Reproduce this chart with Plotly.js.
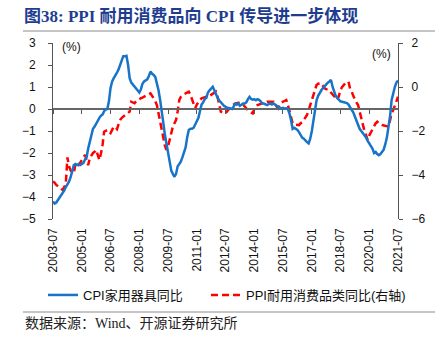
<!DOCTYPE html>
<html>
<head>
<meta charset="utf-8">
<script src="https://cdn.plot.ly/plotly-3.0.1.min.js"></script>
<style>
html,body{margin:0;padding:0;background:#fff;}
#chart{width:445px;height:338px;}
</style>
</head>
<body>
<div id="chart"></div>
<script>
// Monthly series, 2003-07 .. 2021-07
var startYear = 2003, startMonth = 7;

var cpiAppliances = [
  -4.2, -4.3, -4.25, -4.15, -4.05, -3.95, -3.8, -3.7, -3.55, -3.45, -3.3, -3.1,
  -2.75, -2.55, -2.5, -2.55, -2.5, -2.55, -2.5, -2.45, -2.3, -2.2, -1.8, -1.45,
  -1.15, -0.9, -0.8, -0.65, -0.5, -0.4, -0.3, -0.25, -0.1, -0.02, 0.0, 0.35,
  0.95, 1.25, 1.4, 1.5, 1.65, 1.8, 2.0, 2.25, 2.4, 2.4, 2.42, 2.0,
  1.4, 1.2, 1.1, 1.05, 0.95, 0.85, 0.75, 0.9, 1.15, 1.25, 1.3, 1.35,
  1.5, 1.7, 1.6, 1.55, 1.45, 1.2, 0.85, 0.4, 0.0, -0.6, -1.15, -1.6,
  -2.0, -2.45, -2.8, -2.95, -3.08, -2.95, -2.6, -2.5, -2.4, -2.2, -2.0, -1.75,
  -1.3, -0.95, -0.9, -0.9, -0.85, -0.7, -0.55, -0.4, -0.1, 0.2, 0.3, 0.45,
  0.5, 0.75, 0.85, 0.95, 1.01, 0.85, 0.65, 0.5, 0.4, 0.3, 0.2, 0.15,
  0.1, 0.05, 0.05, 0.03, 0.0, 0.1, 0.25, 0.2, 0.25, 0.15, 0.2, 0.25,
  0.25, 0.3, 0.45, 0.55, 0.45, 0.42, 0.45, 0.4, 0.45, 0.42, 0.35, 0.25,
  0.25, 0.2, 0.18, 0.22, 0.25, 0.2, 0.25, 0.2, 0.15, 0.1, 0.05, 0.03,
  0.05, 0.02, 0.03, 0.0, -0.2, -0.5, -0.9, -0.85, -0.9, -0.95, -1.05, -1.2,
  -1.3, -1.35, -1.45, -1.5, -1.56, -1.35, -1.0, -0.45, 0.0, 0.4, 0.6, 0.75,
  0.85, 0.95, 1.05, 1.1, 1.2, 1.25, 1.32, 1.0, 0.8, 0.6, 0.5, 0.4,
  0.35, 0.33, 0.3, 0.3, 0.27, 0.2, 0.1, -0.05, -0.15, -0.35, -0.5, -0.75,
  -0.9, -1.0, -1.1, -1.2, -1.3, -1.45, -1.55, -1.65, -1.8, -2.0, -1.95, -2.05,
  -2.1, -2.05, -1.95, -1.85, -1.6, -1.3, -0.8, -0.3, 0.4, 0.8, 1.0, 1.2, 1.3
];

var ppiDurables = [
  -4.3, -4.35, -4.45, -4.5, -4.55, -4.6, -4.68, -4.55, -4.38, -3.2, -3.6, -3.8,
  -3.85, -3.92, -3.5, -3.6, -3.55, -3.45, -3.32, -3.2, -3.09, -3.3, -3.55, -3.24,
  -3.1, -3.0, -2.95, -2.86, -3.1, -3.32, -3.01, -2.6, -2.03, -2.0, -1.95, -2.05,
  -2.1, -1.95, -1.8, -1.85, -1.92, -1.7, -1.5, -1.4, -1.35, -1.3, -1.27, -1.2,
  -1.12, -0.67, -0.7, -0.74, -0.65, -0.59, -0.55, -0.51, -0.48, -0.44, -0.4, -0.35,
  -0.3, -0.29, -0.4, -0.51, -0.65, -0.82, -1.2, -1.65, -2.0, -2.41, -2.65, -2.86,
  -2.7, -2.41, -2.1, -1.8, -1.65, -1.5, -1.1, -0.59, -0.45, -0.36, -0.32, -0.29,
  -0.25, -0.21, -0.35, -0.59, -0.8, -0.97, -0.8, -0.67, -0.6, -0.51, -0.48, -0.46,
  -0.44, -0.42, -0.4, -0.36, -0.3, -0.25, -0.21, -0.45, -0.85, -1.12, -1.15, -1.18,
  -1.2, -1.1, -1.0, -0.92, -0.85, -0.8, -0.75, -0.74, -0.72, -0.74, -0.74, -0.8,
  -0.9, -0.97, -1.05, -1.12, -1.18, -1.2, -1.0, -0.85, -0.82, -0.78, -0.75, -0.74,
  -0.74, -0.7, -0.67, -0.67, -0.67, -0.67, -0.67, -0.8, -0.9, -0.97, -0.8, -0.7,
  -0.67, -0.63, -0.59, -0.8, -1.12, -1.4, -1.65, -1.7, -1.72, -1.73, -1.73, -1.65,
  -1.6, -1.5, -1.4, -1.27, -1.05, -0.82, -0.6, -0.36, -0.15, 0.09, 0.15, 0.17,
  0.17, 0.05, -0.06, -0.1, -0.12, -0.14, -0.25, -0.35, -0.44, -0.5, -0.59, -0.4,
  -0.14, 0.0, 0.1, 0.17, 0.22, 0.24, -0.1, -0.21, -0.4, -0.59, -0.7, -0.82,
  -1.1, -1.45, -1.8, -2.0, -2.2, -2.41, -2.2, -2.05, -1.95, -1.8, -1.65, -1.58,
  -1.65, -1.7, -1.73, -1.75, -1.78, -1.8, -1.8, -1.5, -1.2, -1.05, -0.89, -0.65, -0.44
];

var tickLabels = ["2003-07","2005-01","2006-07","2008-01","2009-07","2011-01","2012-07",
                  "2014-01","2015-07","2017-01","2018-07","2020-01","2021-07"];

var seriesNames = ["CPI家用器具同比", "PPI耐用消费品类同比(右轴)"];

// build month axis
var months = [];
for (var i = 0; i < cpiAppliances.length; i++) {
  var mm = startMonth - 1 + i;
  var y = startYear + Math.floor(mm / 12);
  var m = (mm % 12) + 1;
  months.push(y + "-" + (m < 10 ? "0" + m : m) + "-01");
}
var tickVals = tickLabels.map(function (t) { return t + "-01"; });
var xRange = [months[0], months[months.length - 1]];

var latin = "Liberation Sans, Arial, Noto Sans CJK SC, sans-serif";
var serif = "Liberation Serif, Noto Sans CJK SC, serif";

function px2x(px) { return (px - 53) / 345; }
function px2y(py) { return (219 - py) / 176; }

var traces = [
  {
    x: months, y: cpiAppliances, name: seriesNames[0],
    type: "scatter", mode: "lines", xaxis: "x2", yaxis: "y", legend: "legend",
    line: {color: "#1874C8", width: 2.5}
  },
  {
    x: months, y: ppiDurables, name: seriesNames[1],
    type: "scatter", mode: "lines", xaxis: "x", yaxis: "y2", legend: "legend2",
    line: {color: "#FF0000", width: 2.5, dash: "7px,4px"}
  }
];

var legendFont = {family: latin, size: 13, color: "#111"};

var layout = {
  width: 445, height: 338,
  margin: {l: 53, r: 47, t: 43, b: 119, pad: 0},
  paper_bgcolor: "#fff", plot_bgcolor: "rgba(0,0,0,0)",
  showlegend: true,
  font: {family: latin, size: 12, color: "#111"},
  title: {
    text: "<b>图38: PPI 耐用消费品向 CPI 传导进一步体现</b>",
    font: {family: serif, size: 17, color: "#1F3D8F"},
    xref: "container", yref: "container", x: 24 / 445, xanchor: "left",
    y: 1 - 16 / 338, yanchor: "middle"
  },
  xaxis: {
    type: "date", range: xRange, tickmode: "array",
    tickvals: tickVals, ticktext: tickLabels, tickangle: -90,
    ticks: "", showline: false, showgrid: false, zeroline: false,
    ticklabelstandoff: 6,
    tickfont: {family: latin, size: 12, color: "#111"}
  },
  xaxis2: {
    type: "date", range: xRange, overlaying: "x", anchor: "free", position: 0.625,
    tickmode: "array", tickvals: tickVals, showticklabels: false,
    ticks: "outside", ticklen: 4, tickwidth: 1, tickcolor: "#555",
    showline: false, showgrid: false, zeroline: false
  },
  yaxis: {
    range: [-5, 3], dtick: 1, tick0: 0,
    showline: true, linecolor: "#555", linewidth: 1,
    ticks: "outside", ticklen: 4, tickcolor: "#555",
    showgrid: false, zeroline: true, zerolinecolor: "#666", zerolinewidth: 1.5,
    ticklabelstandoff: 10,
    tickfont: {family: latin, size: 12, color: "#111"}
  },
  yaxis2: {
    range: [-6, 2], dtick: 2, tick0: 0, overlaying: "y", side: "right",
    showline: true, linecolor: "#555", linewidth: 1,
    ticks: "outside", ticklen: 4, tickcolor: "#555",
    showgrid: false, zeroline: false,
    ticklabelstandoff: 6,
    tickfont: {family: latin, size: 12, color: "#111"}
  },
  legend: {
    orientation: "h", xref: "paper", yref: "paper",
    x: px2x(43), xanchor: "left", y: px2y(295), yanchor: "middle",
    font: legendFont, bgcolor: "rgba(0,0,0,0)"
  },
  legend2: {
    orientation: "h", xref: "paper", yref: "paper",
    x: px2x(206), xanchor: "left", y: px2y(295), yanchor: "middle",
    font: legendFont, bgcolor: "rgba(0,0,0,0)"
  },
  annotations: [
    {text: "(%)", xref: "paper", yref: "paper", x: px2x(60), xanchor: "left",
     y: px2y(47), yanchor: "middle", showarrow: false,
     font: {family: latin, size: 12, color: "#111"}},
    {text: "(%)", xref: "paper", yref: "paper", x: px2x(393), xanchor: "right",
     y: px2y(54), yanchor: "middle", showarrow: false,
     font: {family: latin, size: 12, color: "#111"}},
    {text: "数据来源：Wind、开源证券研究所", xref: "paper", yref: "paper",
     x: px2x(23), xanchor: "left", y: px2y(323), yanchor: "middle",
     showarrow: false, font: {family: serif, size: 14, color: "#222"}}
  ],
  shapes: [
    {type: "line", xref: "paper", yref: "paper", x0: px2x(23), x1: px2x(435),
     y0: px2y(31), y1: px2y(31), line: {color: "#8c8c8c", width: 1}},
    {type: "line", xref: "paper", yref: "paper", x0: px2x(23), x1: px2x(435),
     y0: px2y(312), y1: px2y(312), line: {color: "#8c8c8c", width: 1}}
  ]
};

Plotly.newPlot("chart", traces, layout, {displayModeBar: false, staticPlot: true});
</script>
</body>
</html>
